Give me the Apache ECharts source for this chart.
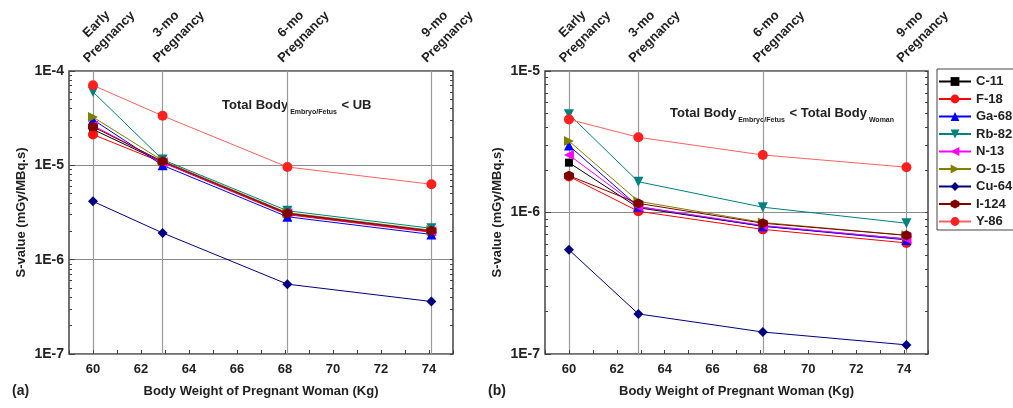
<!DOCTYPE html>
<html>
<head>
<meta charset="utf-8">
<script src="https://cdn.jsdelivr.net/npm/echarts@6/dist/echarts.min.js"></script>
<style>
html, body { margin: 0; padding: 0; background: #fff; }
#main { width: 1013px; height: 408px; }
</style>
</head>
<body>
<div id="main"></div>
<script>
// body weight of the pregnant woman at each stage (kg)
var weights = [60, 62.9, 68.1, 74.1];
var stages = ['Early', '3-mo', '6-mo', '9-mo'];
var nuclides = ['C-11', 'F-18', 'Ga-68', 'Rb-82', 'N-13', 'O-15', 'Cu-64', 'I-124', 'Y-86'];

// (a) Total Body(Embryo/Fetus) <- UB, S-values mGy/MBq.s
var a_C11  = [2.4e-5, 1.08e-5, 3.05e-6, 1.98e-6];
var a_F18  = [2.12e-5, 1.07e-5, 3.0e-6, 1.95e-6];
var a_Ga68 = [3.05e-5, 1.0e-5, 2.85e-6, 1.85e-6];
var a_Rb82 = [6.0e-5, 1.15e-5, 3.3e-6, 2.15e-6];
var a_N13  = [2.65e-5, 1.08e-5, 3.1e-6, 2.0e-6];
var a_O15  = [3.25e-5, 1.12e-5, 3.15e-6, 2.05e-6];
var a_Cu64 = [4.15e-6, 1.92e-6, 5.5e-7, 3.6e-7];
var a_I124 = [2.56e-5, 1.1e-5, 3.1e-6, 2.02e-6];
var a_Y86  = [7.05e-5, 3.35e-5, 9.6e-6, 6.3e-6];

// (b) Total Body(Embryo/Fetus) <- Total Body(Woman)
var b_C11  = [2.25e-6, 1.08e-6, 8.0e-7, 6.5e-7];
var b_F18  = [1.8e-6, 1.02e-6, 7.6e-7, 6.1e-7];
var b_Ga68 = [2.97e-6, 1.1e-6, 8.0e-7, 6.4e-7];
var b_Rb82 = [4.95e-6, 1.65e-6, 1.09e-6, 8.4e-7];
var b_N13  = [2.55e-6, 1.1e-6, 8.1e-7, 6.5e-7];
var b_O15  = [3.2e-6, 1.2e-6, 8.5e-7, 6.9e-7];
var b_Cu64 = [5.45e-7, 1.92e-7, 1.43e-7, 1.16e-7];
var b_I124 = [1.82e-6, 1.16e-6, 8.4e-7, 6.9e-7];
var b_Y86  = [4.55e-6, 3.4e-6, 2.55e-6, 2.09e-6];

var panelA = [a_C11, a_F18, a_Ga68, a_Rb82, a_N13, a_O15, a_Cu64, a_I124, a_Y86];
var panelB = [b_C11, b_F18, b_Ga68, b_Rb82, b_N13, b_O15, b_Cu64, b_I124, b_Y86];

// marker styles
var hexagon = 'path://M0,-10L8.66,-5L8.66,5L0,10L-8.66,5L-8.66,-5Z';
var markerColors = ['#000000', '#ff1010', '#0000ff', '#008080', '#ff00ff', '#808000', '#000080', '#800000', '#ff2020'];
var lineColors   = ['#000000', '#ff0000', '#0000ff', '#008080', '#ff00ff', '#808000', '#000080', '#800000', '#ff6060'];
var symbols      = ['rect', 'circle', 'triangle', 'triangle', 'triangle', 'triangle', 'diamond', hexagon, 'circle'];
var symRotate    = [0, 0, 0, 180, 90, -90, 0, 0, 0];
var symSizes     = [8, 10, 10, 10, 10, 10, 10, 10, 10];

var FONT = '"Liberation Sans", Arial, sans-serif';

var chartDom = document.getElementById('main');
var myChart = echarts.init(chartDom);

function toPair(vals) {
    return vals.map(function (v, i) { return [weights[i], v]; });
}

// minor ticks of a log axis, expressed in log space
function minorLog(lo, hi) {
    var out = [];
    for (var n = lo; n < hi; n++) {
        for (var k = 1; k <= 9; k++) out.push(n + Math.log10(k));
    }
    out.push(hi);
    return out;
}

var series = [];
[panelA, panelB].forEach(function (panel, p) {
    panel.forEach(function (vals, i) {
        series.push({
            name: nuclides[i],
            type: 'line',
            xAxisIndex: p * 2,
            yAxisIndex: p * 3,
            data: toPair(vals),
            symbol: symbols[i],
            symbolRotate: symRotate[i],
            symbolSize: symSizes[i],
            itemStyle: { color: markerColors[i] },
            lineStyle: { color: lineColors[i], width: 1 },
            z: 3 + i
        });
    });
});

function bottomX(grid) {
    return {
        type: 'value', gridIndex: grid, min: 59, max: 75, interval: 1,
        axisLine: { show: false },
        axisTick: { inside: true, length: 4, lineStyle: { color: '#444' } },
        splitLine: { show: false },
        axisLabel: {
            margin: 9, fontSize: 13, fontWeight: 'bold', color: '#222', fontFamily: FONT,
            formatter: function (v) { return v % 2 === 0 ? String(v) : ''; }
        },
        name: 'Body Weight of Pregnant Woman (Kg)',
        nameLocation: 'middle', nameGap: 31,
        nameTextStyle: { fontSize: 13, fontWeight: 'bold', color: '#222', fontFamily: FONT }
    };
}

function topX(grid) {
    return {
        type: 'value', gridIndex: grid, position: 'top', min: 59, max: 75,
        axisLine: { show: false },
        axisTick: { show: false, customValues: weights },
        splitLine: { show: true, lineStyle: { color: '#9a9a9a', width: 1.2 } },
        axisLabel: {
            customValues: weights,
            rotate: -45, margin: 5, align: 'center', verticalAlign: 'bottom',
            padding: [0, 0, 0, 64],
            formatter: function (v) {
                var best = 0;
                weights.forEach(function (w, i) { if (Math.abs(w - v) < Math.abs(weights[best] - v)) best = i; });
                return '{a|' + stages[best] + '}\n{a|Pregnancy}';
            },
            rich: {
                a: { width: 72, align: 'center', fontSize: 13, fontWeight: 'bold', color: '#222', fontFamily: FONT, lineHeight: 18 }
            }
        }
    };
}

function logY(grid, lo, hi) {
    return {
        type: 'log', logBase: 10, gridIndex: grid, min: Math.pow(10, lo), max: Math.pow(10, hi),
        axisLine: { show: false },
        axisTick: { inside: true, length: 6, lineStyle: { color: '#444' } },
        splitLine: { show: true, lineStyle: { color: '#8a8a8a', width: 1.2 } },
        axisLabel: {
            margin: 5, fontSize: 14, fontWeight: 'bold', color: '#222', fontFamily: FONT,
            formatter: function (v) { return '1E' + Math.round(Math.log10(v)); }
        },
        name: 'S-value (mGy/MBq.s)',
        nameLocation: 'middle', nameGap: 41,
        nameTextStyle: { fontSize: 13, fontWeight: 'bold', color: '#222', fontFamily: FONT }
    };
}

function minorY(grid, lo, hi, pos) {
    return {
        type: 'value', gridIndex: grid, position: pos, min: lo, max: hi,
        axisLine: { show: false },
        axisLabel: { show: false },
        splitLine: { show: false },
        axisTick: { inside: true, length: 3, customValues: minorLog(lo, hi), lineStyle: { color: '#444' } }
    };
}

var option = {
    backgroundColor: '#fff',
    animation: false,
    textStyle: { fontFamily: FONT },
    grid: [
        { left: 69, right: 560, top: 71, bottom: 54, show: true, borderColor: '#444', borderWidth: 1.5, outerBoundsMode: 'none' },
        { left: 545, right: 85, top: 71, bottom: 54, show: true, borderColor: '#444', borderWidth: 1.5, outerBoundsMode: 'none' }
    ],
    xAxis: [bottomX(0), topX(0), bottomX(1), topX(1)],
    yAxis: [
        logY(0, -7, -4), minorY(0, -7, -4, 'left'), minorY(0, -7, -4, 'right'),
        logY(1, -7, -5), minorY(1, -7, -5, 'left'), minorY(1, -7, -5, 'right')
    ],
    legend: {
        orient: 'vertical', left: 937, top: 69,
        data: nuclides,
        itemWidth: 32, itemHeight: 11, itemGap: 4.5,
        borderColor: '#444', borderWidth: 1,
        padding: [6, 30, 2, 1],
        textStyle: { fontSize: 13, fontWeight: 'bold', color: '#222', fontFamily: FONT, lineHeight: 13 }
    },
    graphic: [
        {
            type: 'text', left: 222, top: 99,
            style: {
                text: '{m|Total Body}{s|Embryo/Fetus}{m| < UB}',
                rich: {
                    m: { fontSize: 13, fontWeight: 'bold', fill: '#222', fontFamily: FONT, verticalAlign: 'top' },
                    s: { fontSize: 7, fontWeight: 'bold', fill: '#222', fontFamily: FONT, padding: [10, 1, 0, 2] }
                }
            }
        },
        {
            type: 'text', left: 670, top: 107,
            style: {
                text: '{m|Total Body}{s|Embryo/Fetus}{m| < Total Body}{s|Woman}',
                rich: {
                    m: { fontSize: 13, fontWeight: 'bold', fill: '#222', fontFamily: FONT, verticalAlign: 'top' },
                    s: { fontSize: 7, fontWeight: 'bold', fill: '#222', fontFamily: FONT, padding: [10, 1, 0, 2] }
                }
            }
        },
        {
            type: 'text', left: 12, top: 384,
            style: { text: '(a)', fontSize: 14, fontWeight: 'bold', fill: '#222', fontFamily: FONT }
        },
        {
            type: 'text', left: 488, top: 384,
            style: { text: '(b)', fontSize: 14, fontWeight: 'bold', fill: '#222', fontFamily: FONT }
        }
    ],
    series: series
};

option && myChart.setOption(option);
</script>
</body>
</html>
